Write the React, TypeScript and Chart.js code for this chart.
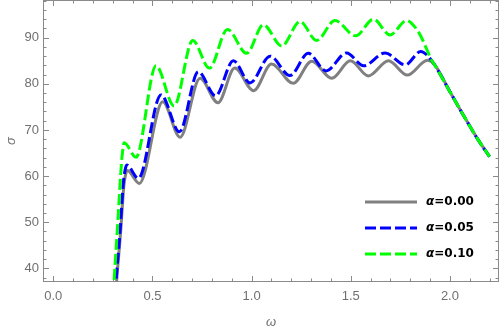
import React, { useEffect, useRef } from "react";
import { Chart, registerables } from "chart.js";

Chart.register(...registerables);

// ---- data ----
const X_TICKS = [0, 0.5, 1.0, 1.5, 2.0];
const Y_TICKS = [40, 50, 60, 70, 80, 90];
const X_MINOR_STEP = 0.1;
const Y_MINOR_STEP = 2;
const X_TITLE = "ω";
const Y_TITLE = "σ";
const SERIES_LABELS = ["α=0.00", "α=0.05", "α=0.10"];

const GRAY_X = [0.306, 0.319, 0.339, 0.356, 0.365, 0.373, 0.434, 0.552, 0.639, 0.74, 0.83, 0.915, 1.01, 1.1, 1.21, 1.303, 1.404, 1.498, 1.589, 1.69, 1.785, 1.887, 1.92, 2.0, 2.08, 2.14, 2.2];
const GRAY_Y = [28, 37, 47.6, 58.0, 60.4, 61.2, 58.4, 76.1, 68.4, 81.2, 75.9, 83.4, 78.5, 84.3, 80.1, 84.9, 81.2, 85.0, 81.7, 85.0, 81.9, 85.1, 84.3, 78.3, 72.3, 68.0, 64.2];

const BLUE_X = [0.303, 0.316, 0.336, 0.353, 0.362, 0.37, 0.429, 0.543, 0.636, 0.731, 0.818, 0.908, 0.992, 1.093, 1.193, 1.286, 1.375, 1.479, 1.565, 1.673, 1.774, 1.853, 1.885, 1.92, 2.0, 2.08, 2.14, 2.2];
const BLUE_Y = [28, 37, 47.6, 58.4, 61.3, 62.4, 59.5, 77.6, 69.6, 82.6, 77.4, 85.0, 80.2, 86.0, 81.8, 86.6, 82.8, 86.7, 83.9, 86.7, 84.1, 87.0, 86.2, 84.3, 78.3, 72.3, 68.0, 64.2];

const GREEN_X = [0.298, 0.306, 0.326, 0.34, 0.348, 0.357, 0.417, 0.518, 0.609, 0.703, 0.787, 0.878, 0.975, 1.059, 1.152, 1.244, 1.328, 1.42, 1.525, 1.614, 1.698, 1.782, 1.82, 1.85, 1.88, 1.905, 1.92, 2.0, 2.08, 2.14, 2.2];
const GREEN_Y = [31, 37, 50.5, 60.5, 64.8, 67.2, 64.1, 83.9, 75.2, 89.4, 83.4, 91.8, 86.6, 92.8, 88.2, 93.5, 89.4, 93.7, 90.4, 94.0, 90.6, 93.7, 92.5, 90.6, 87.8, 85.3, 84.3, 78.3, 72.3, 68.0, 64.2];

const FRAME_COLOR = "#8a8a8a";
const LABEL_COLOR = "#707070";

const toPoints = (xs: number[], ys: number[]) => xs.map((x, i) => ({ x, y: ys[i] }));

const framePlugin = {
  id: "frame",
  beforeDatasetsDraw(chart: any) {
    const { ctx, chartArea: a, scales } = chart;
    const xs = scales.x;
    const ys = scales.y;
    ctx.save();
    ctx.strokeStyle = FRAME_COLOR;
    ctx.lineWidth = 1;
    ctx.strokeRect(a.left + 0.5, a.top + 0.5, a.right - a.left - 1, a.bottom - a.top - 1);
    ctx.beginPath();
    const kx0 = Math.ceil(xs.min / X_MINOR_STEP - 1e-6);
    const kx1 = Math.floor(xs.max / X_MINOR_STEP + 1e-6);
    for (let k = kx0; k <= kx1; k++) {
      const v = k * X_MINOR_STEP;
      const major = X_TICKS.some((t) => Math.abs(t - v) < 1e-6);
      const len = major ? 6 : 3.5;
      const px = Math.round(xs.getPixelForValue(v)) + 0.5;
      ctx.moveTo(px, a.bottom);
      ctx.lineTo(px, a.bottom - len);
      ctx.moveTo(px, a.top);
      ctx.lineTo(px, a.top + len);
    }
    const ky0 = Math.ceil(ys.min / Y_MINOR_STEP - 1e-6);
    const ky1 = Math.floor(ys.max / Y_MINOR_STEP + 1e-6);
    for (let k = ky0; k <= ky1; k++) {
      const v = k * Y_MINOR_STEP;
      const major = Y_TICKS.some((t) => Math.abs(t - v) < 1e-6);
      const len = major ? 6 : 3.5;
      const py = Math.round(ys.getPixelForValue(v)) + 0.5;
      ctx.moveTo(a.left, py);
      ctx.lineTo(a.left + len, py);
      ctx.moveTo(a.right, py);
      ctx.lineTo(a.right - len, py);
    }
    ctx.stroke();
    ctx.restore();
  },
  afterDatasetsDraw(chart: any) {
    const { ctx, chartArea: a } = chart;
    ctx.save();
    chart.data.datasets.forEach((ds: any, i: number) => {
      const y = a.bottom - 80 + i * 26;
      ctx.beginPath();
      ctx.strokeStyle = ds.borderColor;
      ctx.lineWidth = ds.borderWidth;
      ctx.setLineDash(ds.borderDash || []);
      ctx.moveTo(a.right - 134, y);
      ctx.lineTo(a.right - 82, y);
      ctx.stroke();
      ctx.setLineDash([]);
      ctx.fillStyle = "#000";
      ctx.textBaseline = "middle";
      const label: string = ds.label;
      let tx = a.right - 73;
      ctx.font = "italic bold 12px 'DejaVu Sans'";
      ctx.fillText(label[0], tx, y);
      tx += ctx.measureText(label[0]).width;
      ctx.font = "bold 12px 'DejaVu Sans'";
      ctx.fillText(label.slice(1), tx, y);
    });
    ctx.restore();
  },
};

export default function App() {
  const ref = useRef<HTMLCanvasElement | null>(null);
  useEffect(() => {
    if (!ref.current) return;
    Chart.defaults.font.family = "'Liberation Sans', Arial, sans-serif";
    const chart = new Chart(ref.current, {
      type: "line",
      data: {
        datasets: [
          {
            label: SERIES_LABELS[0],
            data: toPoints(GRAY_X, GRAY_Y),
            borderColor: "#808080",
            borderWidth: 3,
            pointRadius: 0,
            cubicInterpolationMode: "monotone",
            order: 2,
          },
          {
            label: SERIES_LABELS[1],
            data: toPoints(BLUE_X, BLUE_Y),
            borderColor: "#0000ff",
            borderWidth: 3,
            borderDash: [11, 4],
            pointRadius: 0,
            cubicInterpolationMode: "monotone",
            order: 1,
          },
          {
            label: SERIES_LABELS[2],
            data: toPoints(GREEN_X, GREEN_Y),
            borderColor: "#00ff00",
            borderWidth: 3,
            borderDash: [11, 4],
            pointRadius: 0,
            cubicInterpolationMode: "monotone",
            order: 0,
          },
        ],
      },
      options: {
        animation: false,
        responsive: false,
        layout: { padding: { left: 0, right: 1, top: 0, bottom: 0 } },
        plugins: { legend: { display: false }, tooltip: { enabled: false } },
        scales: {
          x: {
            type: "linear",
            min: -0.052,
            max: 2.2475,
            grid: { display: false, drawTicks: false },
            border: { display: false },
            afterBuildTicks: (s: any) => {
              s.ticks = X_TICKS.map((v) => ({ value: v }));
            },
            afterFit: (s: any) => {
              s.height = 46;
              s.paddingLeft = 0;
              s.paddingRight = 0;
            },
            ticks: {
              autoSkip: false,
              maxRotation: 0,
              padding: 7,
              color: LABEL_COLOR,
              font: { size: 13 },
              callback: (v: any) => Number(v).toFixed(1),
            },
            title: {
              display: true,
              text: X_TITLE,
              color: LABEL_COLOR,
              font: { size: 13, style: "italic" },
              padding: { top: 0, bottom: -2 },
            },
          },
          y: {
            type: "linear",
            min: 37.03,
            max: 98.17,
            grid: { display: false, drawTicks: false },
            border: { display: false },
            afterBuildTicks: (s: any) => {
              s.ticks = Y_TICKS.map((v) => ({ value: v }));
            },
            afterFit: (s: any) => {
              s.width = 43;
              s.paddingTop = 0;
              s.paddingBottom = 0;
            },
            ticks: {
              autoSkip: false,
              padding: 4,
              color: LABEL_COLOR,
              font: { size: 13 },
              callback: (v: any) => String(v),
            },
            title: {
              display: true,
              text: Y_TITLE,
              color: LABEL_COLOR,
              font: { size: 13, style: "italic" },
              padding: { top: 4, bottom: 0 },
            },
          },
        },
      },
      plugins: [framePlugin],
    } as any);
    return () => chart.destroy();
  }, []);
  return (
    <div style={{ position: "absolute", left: 0, top: 0, width: 500, height: 328, background: "#fff" }}>
      <canvas ref={ref} width={500} height={328} />
    </div>
  );
}
